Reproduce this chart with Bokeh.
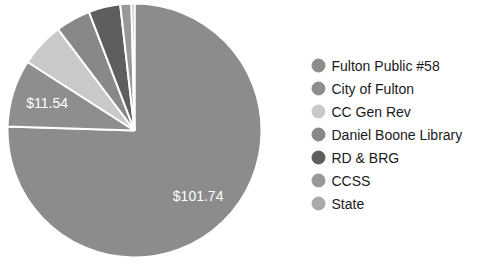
import math
from bokeh.plotting import figure
from bokeh.models import Range1d, ColumnDataSource
from bokeh.core.properties import value
from bokeh.embed import file_html
from bokeh.resources import INLINE

categories = ["Fulton Public #58", "City of Fulton", "CC Gen Rev", "Daniel Boone Library",
              "RD & BRG", "CCSS", "State"]
amounts = [101.74, 11.54, 7.6, 6.0, 5.45, 1.9, 0.52]
colors = ["#8c8c8c", "#8e8e8e", "#c9c9c9", "#888888", "#5e5e5e", "#989898", "#a9a9a9"]

W, H = 466, 258
p = figure(width=W, height=H, output_backend="svg", toolbar_location=None,
           x_range=Range1d(0, W), y_range=Range1d(-H, 0),
           min_border=0)
p.axis.visible = False
p.grid.visible = False
p.outline_line_color = None
p.background_fill_color = "white"

cx, cy, r = 134, -130, 127
total = sum(amounts)
starts, ends, mids = [], [], []
cum = 0.0
for a in amounts:
    s = cum / total
    cum += a
    e = cum / total
    starts.append(math.pi / 2 - 2 * math.pi * s)
    ends.append(math.pi / 2 - 2 * math.pi * e)
    mids.append(math.pi / 2 - 2 * math.pi * (s + e) / 2)

src = ColumnDataSource(dict(start=starts, end=ends, color=colors, cat=categories))
p.wedge(x=cx, y=cy, radius=r, start_angle="start", end_angle="end", direction="clock",
        fill_color="color", line_color="white", line_width=2, source=src)

# slice labels for large slices
lab_x, lab_y, lab_t = [], [], []
for a, m in zip(amounts, mids):
    if a / total > 0.06:
        lab_x.append(cx + 0.72 * r * math.cos(m))
        lab_y.append(cy + 0.72 * r * math.sin(m))
        lab_t.append("$%.2f" % a)
p.text(x=lab_x, y=lab_y, text=lab_t, text_color="white", text_font=value("Liberation Sans"),
       text_font_size="14px", text_align="center", text_baseline="middle")

# legend
ly = [-(65 + 23 * i) for i in range(len(categories))]
p.scatter(x=[318] * len(categories), y=ly, size=13, marker="circle",
          fill_color=colors, line_color=colors)
p.text(x=[331] * len(categories), y=ly, text=categories, text_color="#1a1a1a",
       text_font=value("Liberation Sans"), text_font_size="14px",
       text_align="left", text_baseline="middle")

open("out.html", "w").write(file_html(p, INLINE))
